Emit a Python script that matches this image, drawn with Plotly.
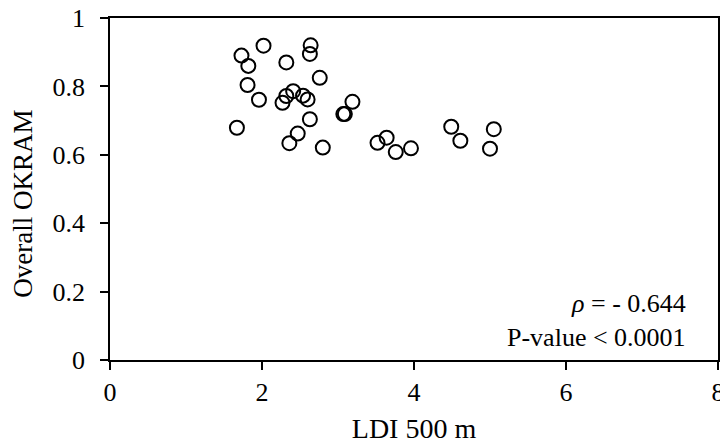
import plotly.graph_objects as go

ldi_500m = [2.02, 1.73, 1.82, 2.32, 2.64, 2.63, 2.76, 1.81, 1.96, 2.27,
            2.32, 2.41, 2.54, 2.60, 3.19, 3.09, 3.07, 2.63, 1.67, 2.47,
            2.36, 2.80, 3.52, 3.64, 3.76, 3.96, 4.49, 4.61, 5.05, 5.00]
overall_okram = [0.919, 0.890, 0.860, 0.870, 0.920, 0.895, 0.825, 0.804, 0.761, 0.752,
                 0.772, 0.786, 0.773, 0.762, 0.755, 0.719, 0.719, 0.704, 0.679, 0.662,
                 0.634, 0.621, 0.635, 0.650, 0.608, 0.619, 0.682, 0.641, 0.675, 0.618]
x_ticks = [0, 2, 4, 6, 8]
y_ticks = [0, 0.2, 0.4, 0.6, 0.8, 1]
y_tick_labels = ["0", "0.2", "0.4", "0.6", "0.8", "1"]

FONT = "Liberation Serif, Times New Roman, serif"

fig = go.Figure()
fig.add_trace(go.Scatter(
    x=ldi_500m, y=overall_okram, mode="markers",
    marker=dict(symbol="circle-open", size=14, color="black", line=dict(width=2, color="black")),
    showlegend=False, cliponaxis=False,
))

axis_common = dict(
    showline=True, linecolor="black", linewidth=1.5, mirror=True,
    ticks="outside", tickwidth=1.5, tickcolor="black", automargin=False,
    showgrid=False, zeroline=False, ticklabeloverflow="allow",
    tickfont=dict(family=FONT, size=26, color="black"),
)

fig.update_layout(
    width=720, height=448,
    margin=dict(l=110, r=2, t=18, b=88),
    paper_bgcolor="white", plot_bgcolor="white",
    font=dict(family=FONT, color="black"),
    xaxis=dict(range=[0, 8], tickvals=x_ticks, ticktext=[str(t) for t in x_ticks],
               ticklen=8, ticklabelstandoff=0,
               title=dict(text="LDI 500 m", font=dict(family=FONT, size=28), standoff=12),
               **axis_common),
    yaxis=dict(range=[0, 1], tickvals=y_ticks, ticktext=y_tick_labels,
               ticklen=8, ticklabelstandoff=10,
               **axis_common),
    annotations=[
        dict(x=-0.143, y=0.457, xref="paper", yref="paper", xanchor="center", yanchor="middle",
             text="Overall OKRAM", textangle=-90, showarrow=False,
             font=dict(family=FONT, size=27)),
        dict(x=0.95, y=0.165, xref="paper", yref="paper", xanchor="right", yanchor="middle",
             text="<i>ρ</i> = - 0.644", showarrow=False, font=dict(family=FONT, size=26)),
        dict(x=0.95, y=0.065, xref="paper", yref="paper", xanchor="right", yanchor="middle",
             text="P-value &lt; 0.0001", showarrow=False, font=dict(family=FONT, size=26)),
    ],
)

fig.write_html("out.html")
